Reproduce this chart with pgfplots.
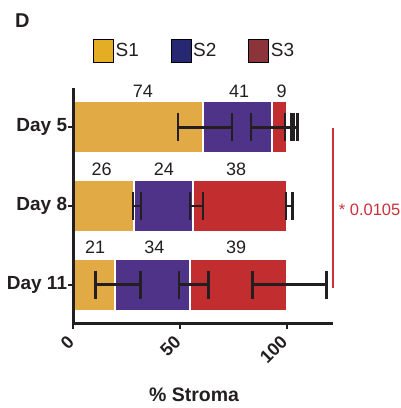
\documentclass[border=0pt]{standalone}
\usepackage{pgfplots}
\pgfplotsset{compat=1.18}
\usepackage{fontspec}
\setmainfont{Liberation Sans}
\definecolor{barA}{HTML}{E2AA45}
\definecolor{barB}{HTML}{4E3388}
\definecolor{barC}{HTML}{C22D2F}
\definecolor{legA}{HTML}{E3AE24}
\definecolor{legB}{HTML}{262872}
\definecolor{legC}{HTML}{8B3439}
\definecolor{ink}{HTML}{231F20}
\definecolor{sig}{HTML}{CC2F3A}
\pgfplotsset{
  base/.style={scale only axis, width=259.4pt, height=236pt,
    xmin=0, xmax=121.6, ymin=0.5, ymax=3.5, clip=false},
  errb/.style={ink, line width=2.5pt, mark=|, mark size=14pt,
    mark options={line width=2.5pt, solid}}
}
\begin{document}
\begin{tikzpicture}
\begin{axis}[base,
  axis on top,
  axis x line=bottom, axis y line=left,
  axis line style={-, line width=3pt, ink},
  xtick={0,50,100}, ytick={1,2,3}, yticklabels={Day 11,Day 8,Day 5},
  tick align=outside, major tick length=5pt,
  tick style={line width=2pt, ink},
  /pgf/number format/assume math mode=true,
  xticklabel style={font=\fontsize{18}{20}\selectfont\bfseries, xshift=-7pt, yshift=-4pt, rotate=45, anchor=north east, inner sep=1pt, text=ink},
  yticklabel style={font=\fontsize{19}{21}\selectfont\bfseries, text=ink, inner xsep=1pt},
  xlabel={\% Stroma},
  xlabel style={at={(axis description cs:0.4653,-0.2996)}, anchor=center,
    font=\fontsize{19.5}{21}\selectfont\bfseries, text=ink},
  xbar stacked, bar width=0.66,
  legend columns=3,
  legend style={at={(axis description cs:0.076,1.157)}, anchor=west,
    draw=none, fill=none, inner sep=0pt,
    font=\fontsize{19}{21}\selectfont, text=ink,
    /tikz/every even column/.append style={column sep=30pt},
    nodes={inner xsep=2pt, inner ysep=0pt}},
  legend image code/.code={\fill[#1] (0pt,-11.5pt) rectangle (20pt,11.5pt);},
]
\addplot[fill=barA, draw=white, line width=2pt, forget plot] coordinates {(60.7,3) (28.5,2) (19.5,1)};
\addplot[fill=barB, draw=white, line width=2pt, forget plot] coordinates {(32.3,3) (27.8,2) (35.2,1)};
\addplot[fill=barC, draw=white, line width=2pt, forget plot] coordinates {(7.0,3) (43.7,2) (45.3,1)};
\addlegendimage{fill=legA}\addlegendentry{S1}
\addlegendimage{fill=legB}\addlegendentry{S2}
\addlegendimage{fill=legC}\addlegendentry{S3}
\end{axis}
\begin{axis}[base, hide axis]
% error bars
\addplot[errb] coordinates {(49.2,3) (74.3,3)};
\addplot[errb] coordinates {(83.3,3) (102.4,3)};
\addplot[errb] coordinates {(99.2,3) (103.5,3) (105.0,3)};
\addplot[errb] coordinates {(28.1,2) (31.7,2)};
\addplot[errb] coordinates {(54.7,2) (60.7,2)};
\addplot[errb] coordinates {(99.7,2) (102.7,2)};
\addplot[errb] coordinates {(10.3,1) (31.6,1)};
\addplot[errb] coordinates {(49.6,1) (63.3,1)};
\addplot[errb] coordinates {(84.1,1) (118.8,1)};
% counts above bars
\addplot[draw=none, mark=none, nodes near coords, point meta=explicit symbolic,
  every node near coord/.style={anchor=center, font=\fontsize{18}{20}\selectfont, text=ink}]
  table[meta=lab] {
x y lab
32.6 3.457 74
77.7 3.457 41
97.7 3.457 9
13.3 2.464 26
42.5 2.464 24
76.3 2.464 38
10.2 1.479 21
38.0 1.479 34
76.3 1.479 39
};
% significance bracket
\addplot[sig, line width=2pt] coordinates {(121.9,2.99) (121.9,0.958)};
\node[anchor=west, text=sig, font=\fontsize{16.5}{18}\selectfont, inner sep=0pt] at (axis cs:124.4,1.955) {* 0.0105};
\node[anchor=center, text=ink, font=\fontsize{20}{22}\selectfont\bfseries] at (axis description cs:-0.196,1.284) {D};
\coordinate (bbsw) at (axis description cs:-0.2826,-0.356);
\coordinate (bbne) at (axis description cs:1.2633,1.3729);
\end{axis}
\path (bbsw) rectangle (bbne);
\end{tikzpicture}
\end{document}
